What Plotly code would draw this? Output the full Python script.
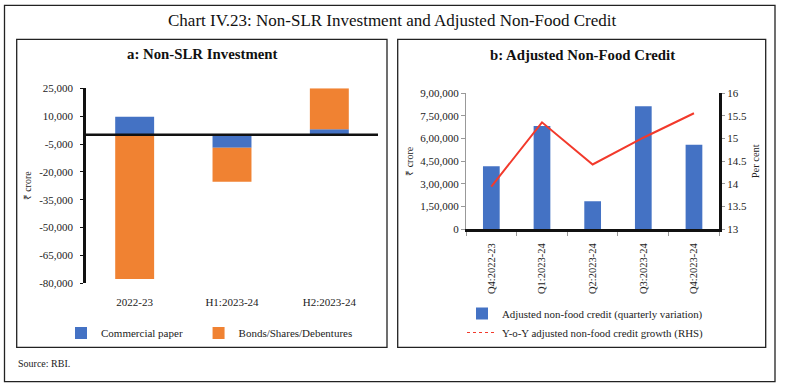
import plotly.graph_objects as go

W, H = 785, 388

# ---------------- data ----------------
cats_a = ["2022-23", "H1:2023-24", "H2:2023-24"]
commercial_paper = [9700, -7000, 2900]
bonds_shares_deb = [-77700, -18300, 22100]
ticks_a = [-80000, -65000, -50000, -35000, -20000, -5000, 10000, 25000]
ticktext_a = ["-80,000", "-65,000", "-50,000", "-35,000", "-20,000", "-5,000", "10,000", "25,000"]

cats_b = ["Q4:2022-23", "Q1:2023-24", "Q2:2023-24", "Q3:2023-24", "Q4:2023-24"]
nonfood_credit = [418000, 684000, 185000, 814000, 560000]
yoy_growth = [13.94, 15.36, 14.43, 15.02, 15.56]
ticks_b = [0, 150000, 300000, 450000, 600000, 750000, 900000]
ticktext_b = ["0", "1,50,000", "3,00,000", "4,50,000", "6,00,000", "7,50,000", "9,00,000"]
ticks_b2 = [13, 13.5, 14, 14.5, 15, 15.5, 16]
ticktext_b2 = ["13", "13.5", "14", "14.5", "15", "15.5", "16"]

BLUE = "#4472C4"
ORANGE = "#F08232"
RED = "#F23A2C"
FONT = "Liberation Serif"


def px(x):
    return x / W


def py(y):
    return 1 - y / H


fig = go.Figure()

# Panel a
fig.add_trace(go.Bar(x=cats_a, y=commercial_paper, name="Commercial paper\u00a0\u00a0\u00a0\u00a0",
                     marker=dict(color=BLUE, line=dict(width=0)), width=0.4,
                     xaxis="x", yaxis="y", legend="legend"))
fig.add_trace(go.Bar(x=cats_a, y=bonds_shares_deb, name="Bonds/Shares/Debentures",
                     marker=dict(color=ORANGE, line=dict(width=0)), width=0.4,
                     xaxis="x", yaxis="y", legend="legend"))

# Panel b
fig.add_trace(go.Bar(x=cats_b, y=nonfood_credit,
                     name="Adjusted non-food credit (quarterly variation)",
                     marker=dict(color=BLUE, line=dict(width=0)), width=0.33,
                     xaxis="x2", yaxis="y2", legend="legend2"))
fig.add_trace(go.Scatter(x=cats_b, y=yoy_growth, mode="lines",
                         name="Y-o-Y adjusted non-food credit growth (RHS)",
                         line=dict(color=RED, width=2), showlegend=False,
                         xaxis="x2", yaxis="y3"))
fig.add_trace(go.Scatter(x=[None], y=[None], mode="lines",
                         name="Y-o-Y adjusted non-food credit growth (RHS)",
                         line=dict(color=RED, width=1, dash="dot"),
                         xaxis="x2", yaxis="y3", legend="legend2"))

tickfont = dict(family=FONT, size=11, color="#222")

fig.update_layout(
    template="none",
    width=W, height=H,
    margin=dict(l=0, r=0, t=0, b=0, pad=0),
    paper_bgcolor="white", plot_bgcolor="white",
    barmode="relative",
    font=dict(family=FONT, size=11, color="#222"),
    xaxis=dict(domain=[px(86), px(378)], type="category", range=[-0.5, 2.5],
               showgrid=False, showline=False, ticks="", zeroline=False, automargin=False,
               tickfont=tickfont, ticklabelstandoff=11),
    yaxis=dict(domain=[py(283.3), py(88.3)], range=[-80000, 25000], automargin=False,
               tickvals=ticks_a, ticktext=ticktext_a, showgrid=False, zeroline=False,
               showline=True, linecolor="#111", linewidth=2.5,
               ticks="outside", ticklen=3, tickcolor="#111", tickfont=tickfont,
               ticklabelstandoff=5,
               title=dict(text="₹ crore", font=dict(family=FONT, size=10), standoff=6)),
    xaxis2=dict(domain=[px(466), px(719.3)], type="category", range=[-0.5, 4.5],
                showgrid=False, zeroline=False, showline=True, linecolor="#111", linewidth=2.5,
                ticks="outside", tickson="boundaries", ticklen=4, tickcolor="#999",
                tickangle=-90, tickfont=dict(family=FONT, size=10.5, color="#222"),
                ticklabelstandoff=7, anchor="y2", automargin=False),
    yaxis2=dict(domain=[py(229.3), py(93.3)], range=[0, 900000], automargin=False,
                tickvals=ticks_b, ticktext=ticktext_b, showgrid=False, zeroline=False,
                showline=True, linecolor="#999", linewidth=1,
                ticks="outside", ticklen=4, tickcolor="#999", tickfont=tickfont,
                ticklabelstandoff=0, anchor="x2",
                title=dict(text="₹ crore", font=dict(family=FONT, size=10), standoff=4)),
    yaxis3=dict(domain=[py(229.3), py(93.3)], range=[13, 16], overlaying="y2", side="right",
                anchor="x2", tickvals=ticks_b2, ticktext=ticktext_b2, showgrid=False,
                zeroline=False, showline=True, linecolor="#111", linewidth=2.5, automargin=False,
                ticks="outside", ticklen=3, tickcolor="#999", tickfont=tickfont,
                title=dict(text="Per cent", font=dict(family=FONT, size=10.5), standoff=6)),
    legend=dict(orientation="h", x=px(61), y=py(333), xanchor="left", yanchor="middle",
                font=dict(family=FONT, size=11, color="#222"), bgcolor="rgba(0,0,0,0)",
                borderwidth=0, itemclick=False),
    legend2=dict(orientation="v", x=px(462), y=py(323), xanchor="left", yanchor="middle",
                 font=dict(family=FONT, size=10.9, color="#222"), bgcolor="rgba(0,0,0,0)",
                 borderwidth=0, itemwidth=30, tracegroupgap=0),
    showlegend=True,
)

# Zero line for panel a drawn above bars
fig.add_shape(type="line", xref="x domain", yref="y", x0=0, x1=1, y0=0, y1=0,
              line=dict(color="#111", width=2.5), layer="above")

# Frames
box = dict(color="#222", width=1.3)
fig.add_shape(type="rect", xref="paper", yref="paper", x0=px(4.5), x1=px(775), y0=py(381.7), y1=py(5.3), line=box)
fig.add_shape(type="rect", xref="paper", yref="paper", x0=px(16.7), x1=px(387), y0=py(347.3), y1=py(39.3), line=box)
fig.add_shape(type="rect", xref="paper", yref="paper", x0=px(397.7), x1=px(765.7), y0=py(347.3), y1=py(39.3), line=box)

# Titles
fig.add_annotation(text="Chart IV.23: Non-SLR Investment and Adjusted Non-Food Credit",
                   xref="paper", yref="paper", x=px(392), y=py(20), showarrow=False,
                   font=dict(family=FONT, size=17, color="#111"), xanchor="center", yanchor="middle")
fig.add_annotation(text="<b>a: Non-SLR Investment</b>", xref="paper", yref="paper",
                   x=px(202), y=py(54), showarrow=False,
                   font=dict(family=FONT, size=14.8, color="#111"), xanchor="center", yanchor="middle")
fig.add_annotation(text="<b>b: Adjusted Non-Food Credit</b>", xref="paper", yref="paper",
                   x=px(582), y=py(55), showarrow=False,
                   font=dict(family=FONT, size=14.8, color="#111"), xanchor="center", yanchor="middle")
fig.add_annotation(text="Source: RBI.", xref="paper", yref="paper", x=px(16), y=py(363),
                   showarrow=False, font=dict(family=FONT, size=10, color="#222"),
                   xanchor="left", yanchor="middle")

fig.write_html("out.html", config={"displayModeBar": False},
               post_script="document.body.style.margin='0';")
